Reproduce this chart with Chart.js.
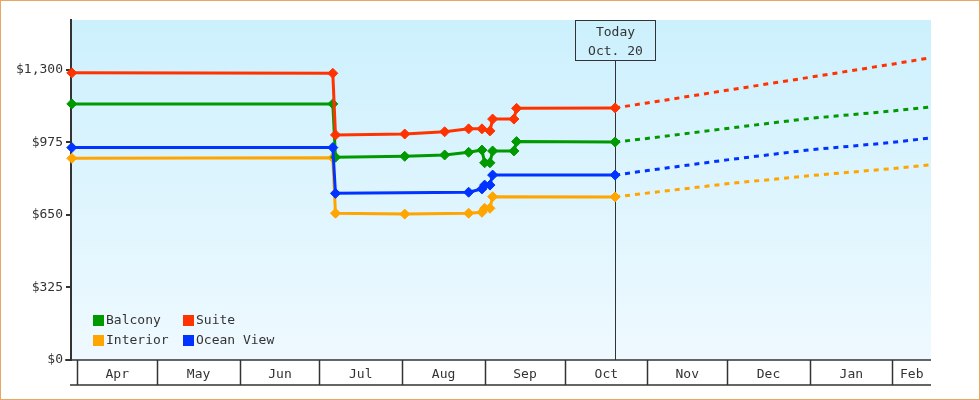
<!DOCTYPE html>
<html>
<head>
<meta charset="utf-8">
<script src="https://cdn.jsdelivr.net/npm/chart.js@4"></script>
<style>
  body { margin: 0; background: #fff; }
  canvas { display: block; }
</style>
</head>
<body>
<canvas id="fareChart" width="980" height="400"></canvas>
<script>
// ===============================
// DATA
// ===============================

const dates = ['Mar 30', 'Jul 6', 'Jul 7', 'Aug 2', 'Aug 17', 'Aug 26', 'Aug 31', 'Sep 1', 'Sep 3',
    'Sep 4', 'Sep 12', 'Sep 13', 'Oct 20', 'Nov 1', 'Dec 1', 'Jan 1', 'Feb 1', 'Feb 15'];

const balcony = [1148, 1148, 909, 913, 919, 931, 941, 884, 884, 937, 937, 979, 977, 993, 1038, 1083, 1116, 1134];
const suite = [1287, 1285, 1009, 1013, 1023, 1036, 1036, null, 1027, 1080, 1080, 1128, 1130, 1152, 1209, 1267, 1326, 1354];
const interior = [904, 906, 658, 654, null, 658, 662, 680, 680, 732, null, null, 731, 748, 790, 826, 858, 874];
const oceanView = [952, 952, 747, null, null, 752, 767, 784, 784, 829, null, null, 829, 849, 897, 942, 975, 995];

const monthLabels = ['Apr', 'May', 'Jun', 'Jul', 'Aug', 'Sep', 'Oct', 'Nov', 'Dec', 'Jan', 'Feb', 'Mar'];
const yTicks = [0, 325, 650, 975, 1300];

const todayDate = 'Oct 20';
const todayText = ['Today', 'Oct. 20'];

// days from Apr 1 for each month start
const monthStart = { Mar: -31, Apr: 0, May: 30, Jun: 61, Jul: 91, Aug: 122, Sep: 153, Oct: 183, Nov: 214, Dec: 244, Jan: 275, Feb: 306 };

function dayOf(s) {
    let parts = s.split(' ');
    return monthStart[parts[0]] + Number(parts[1]) - 1;
}

const today = dayOf(todayDate);
const xMin = -2.3, xMax = 320.6;

const FONT = '13px "DejaVu Sans Mono", monospace';
const INK = '#333333';

function series(label, values, color, order) {
    return {
        label: label,
        order: order,
        data: dates.map((d, i) => ({ x: dayOf(d), y: values[i] })),
        borderColor: color,
        backgroundColor: color,
        borderWidth: 3,
        tension: 0,
        spanGaps: true,
        clip: false,
        pointStyle: 'rectRot',
        pointRadius: ctx => (ctx.raw && ctx.raw.x > today ? 0 : 5),
        pointHoverRadius: 5,
        pointBorderWidth: 1,
        segment: {
            borderDash: ctx => (ctx.p0.parsed.x >= today ? [5, 5] : undefined)
        }
    };
}


// ===============================
// DRAWING EXTRAS
// ===============================

const extras = {
    id: 'extras',

    beforeDraw(chart) {
        const c = chart.ctx, a = chart.chartArea;
        c.save();
        c.fillStyle = '#fff';
        c.fillRect(0, 0, chart.width, chart.height);
        let g = c.createLinearGradient(0, a.top, 0, a.bottom);
        g.addColorStop(0, '#ccf0fd');
        g.addColorStop(1, '#eff9ff');
        c.fillStyle = g;
        c.fillRect(a.left, a.top, a.right - a.left, a.bottom - a.top);
        c.restore();
    },

    beforeDatasetsDraw(chart) {
        const c = chart.ctx, a = chart.chartArea, x = chart.scales.x;
        let tx = Math.round(x.getPixelForValue(today)) + 0.5;
        c.save();
        c.strokeStyle = INK;
        c.lineWidth = 1;
        c.beginPath();
        c.moveTo(tx, a.top + 41);
        c.lineTo(tx, a.bottom);
        c.stroke();
        c.strokeRect(tx - 40, a.top + 0.5, 80, 40);
        c.fillStyle = INK;
        c.font = FONT;
        c.textAlign = 'center';
        c.textBaseline = 'middle';
        c.fillText(todayText[0], tx, a.top + 13);
        c.fillText(todayText[1], tx, a.top + 32);
        c.restore();
    },

    afterDraw(chart) {
        const c = chart.ctx, a = chart.chartArea, x = chart.scales.x;
        c.save();

        // month band under the plot
        c.strokeStyle = INK;
        c.lineWidth = 1.5;
        c.beginPath();
        c.moveTo(a.left - 6, a.bottom);
        c.lineTo(a.right, a.bottom);
        c.moveTo(a.left - 1, a.bottom + 25);
        c.lineTo(a.right, a.bottom + 25);
        c.stroke();

        c.font = FONT;
        c.fillStyle = INK;
        c.textAlign = 'center';
        c.textBaseline = 'middle';
        c.lineWidth = 1.5;
        let names = Object.keys(monthStart).slice(1);
        names.forEach((m, i) => {
            let s = monthStart[m];
            let e = i + 1 < names.length ? monthStart[names[i + 1]] : s + 28;
            if (s > xMax) return;
            let px = Math.round(x.getPixelForValue(s)) + 0.5;
            c.beginPath();
            c.moveTo(px, a.bottom);
            c.lineTo(px, a.bottom + 25);
            c.stroke();
            let right = x.getPixelForValue(Math.min(e, xMax));
            c.fillText(monthLabels[i], (px + right) / 2, a.bottom + 15);
        });

        // legend inside plot
        let items = chart.data.datasets;
        items.forEach((ds, i) => {
            let col = i % 2, row = Math.floor(i / 2);
            let bx = 93 + col * 90, by = 315 + row * 20;
            c.fillStyle = ds.borderColor;
            c.fillRect(bx, by, 11, 11);
            c.fillStyle = INK;
            c.textAlign = 'left';
            c.fillText(ds.label, bx + 13, by + 6);
        });

        // outer frame
        c.strokeStyle = '#e9a862';
        c.lineWidth = 1;
        c.strokeRect(0.5, 0.5, chart.width - 1, chart.height - 1);
        c.restore();
    }
};


// ===============================
// CHART SETUP
// ===============================

const ctx = document.getElementById('fareChart').getContext('2d');

let fareChart = new Chart(ctx, {
    type: 'line',
    data: {
        datasets: [
            series('Balcony', balcony, '#009900', 2),
            series('Suite', suite, '#ff3300', 0),
            series('Interior', interior, '#ffa500', 3),
            series('Ocean View', oceanView, '#0033ff', 1)
        ]
    },
    options: {
        responsive: false,
        animation: false,
        events: [],
        layout: { padding: { left: 0, right: 49, top: 20, bottom: 40 } },
        plugins: { legend: { display: false }, tooltip: { enabled: false } },
        scales: {
            x: { type: 'linear', min: xMin, max: xMax, display: false },
            y: {
                min: 0,
                max: 1524,
                afterFit: s => { s.width = 71; },
                afterBuildTicks: s => { s.ticks = yTicks.map(v => ({ value: v })); },
                ticks: {
                    color: INK,
                    padding: 3,
                    font: { family: '"DejaVu Sans Mono", monospace', size: 13 },
                    callback: v => '$' + Number(v).toLocaleString('en-US')
                },
                grid: { drawOnChartArea: false, tickLength: 5, color: INK, lineWidth: 2 },
                border: { color: INK, width: 2 }
            }
        }
    },
    plugins: [extras]
});
</script>
</body>
</html>
